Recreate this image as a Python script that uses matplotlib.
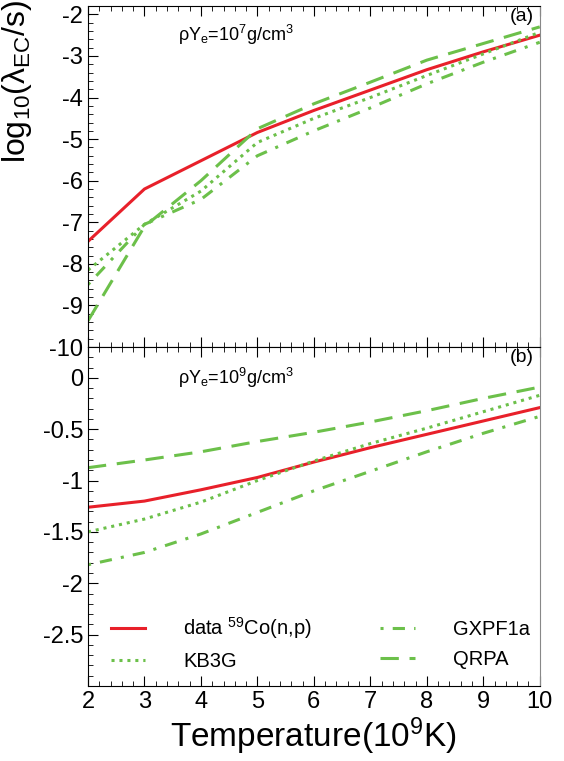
import matplotlib
matplotlib.use("Agg")
import matplotlib.pyplot as plt
from matplotlib.ticker import MultipleLocator

plt.rcParams['font.family'] = ['Liberation Sans', 'DejaVu Sans']
plt.rcParams['mathtext.fontset'] = 'custom'
plt.rcParams['mathtext.rm'] = 'Liberation Sans'
plt.rcParams['mathtext.it'] = 'Liberation Sans'
plt.rcParams['axes.unicode_minus'] = False

# temperature grid (10^9 K)
T = [2, 3, 4, 5, 6, 7, 8, 9, 10]

# panel (a): rho*Ye = 1e7 g/cm^3
data_a = [-7.46, -6.2, -5.52, -4.84, -4.31, -3.82, -3.33, -2.9, -2.5]
kb3g_a = [-8.15, -7.05, -6.25, -5.08, -4.5, -4.0, -3.47, -2.95, -2.43]
gxpf_a = [-8.5, -7.05, -6.45, -5.4, -4.8, -4.25, -3.67, -3.15, -2.67]
qrpa_a = [-9.37, -7.1, -6.0, -4.75, -4.15, -3.63, -3.1, -2.7, -2.3]

# panel (b): rho*Ye = 1e9 g/cm^3
data_b = [-1.26, -1.2, -1.09, -0.97, -0.82, -0.68, -0.55, -0.42, -0.29]
kb3g_b = [-1.5, -1.375, -1.21, -1.0, -0.81, -0.64, -0.49, -0.33, -0.17]
gxpf_b = [-1.82, -1.7, -1.52, -1.31, -1.1, -0.91, -0.72, -0.54, -0.375]
qrpa_b = [-0.875, -0.8, -0.72, -0.62, -0.53, -0.43, -0.32, -0.2, -0.09]

red = '#e8202a'
green = '#6cc04a'

fig = plt.figure(figsize=(5.64, 7.61), dpi=100)
ax1 = fig.add_axes([0.156, 0.544, 0.801, 0.448])
ax2 = fig.add_axes([0.156, 0.0986, 0.801, 0.4454])


def draw(ax, d, k, g, q):
    ax.plot(T, d, color=red, lw=2.2, label=r'data $^{59}$Co(n,p)')
    ax.plot(T, k, color=green, lw=2.2, ls=(0, (1, 1.6)), label='KB3G')
    ax.plot(T, g, color=green, lw=2.2, ls=(0, (1, 3, 4, 3)), label='GXPF1a')
    ax.plot(T, q, color=green, lw=2.2, ls=(0, (6, 3.5)), label='QRPA')
    ax.set_xlim(2, 10)
    ax.xaxis.set_major_locator(MultipleLocator(1))
    ax.xaxis.set_minor_locator(MultipleLocator(0.2))
    ax.tick_params(which='both', direction='in', right=False, top=True,
                   labelsize=17)
    ax.tick_params(which='major', length=7)
    ax.tick_params(which='minor', length=3.5)
    ax.spines['right'].set_color('#888888')


draw(ax1, data_a, kb3g_a, gxpf_a, qrpa_a)
ax1.set_ylim(-10, -1.8)
ax1.yaxis.set_major_locator(MultipleLocator(1))
ax1.yaxis.set_minor_locator(MultipleLocator(0.2))
ax1.tick_params(axis='x', labelbottom=False)
ax1.set_yticks([-2, -3, -4, -5, -6, -7, -8, -9, -10])
ax1.text(0.2, 0.915, r'$\rho$Y$_{\rm e}$=10$^{7}$g/cm$^{3}$', transform=ax1.transAxes,
         fontsize=13, va='center')
ax1.text(0.987, 0.995, '(a)', transform=ax1.transAxes, fontsize=14,
         ha='right', va='top')
ax1.set_ylabel(r'log$_{10}$($\lambda_{\rm EC}$/s)', fontsize=23, labelpad=4)
ax1.yaxis.set_label_coords(-0.12, 0.78)

draw(ax2, data_b, kb3g_b, gxpf_b, qrpa_b)
ax2.set_ylim(-3, 0.3)
ax2.set_yticks([0, -0.5, -1, -1.5, -2, -2.5])
ax2.set_yticklabels(['0', '-0.5', '-1', '-1.5', '-2', '-2.5'])
ax2.yaxis.set_minor_locator(MultipleLocator(0.1))
ax2.text(0.2, 0.91, r'$\rho$Y$_{\rm e}$=10$^{9}$g/cm$^{3}$', transform=ax2.transAxes,
         fontsize=13, va='center')
ax2.text(0.987, 0.995, '(b)', transform=ax2.transAxes, fontsize=14,
         ha='right', va='top')
ax2.set_xlabel(r'Temperature(10$^{9}$K)', fontsize=24, labelpad=2)
ax2.legend(loc='lower left', bbox_to_anchor=(0.01, -0.01), ncol=2, frameon=False,
           fontsize=14.5, handlelength=1.7, handletextpad=1.9, columnspacing=3.4,
           labelspacing=0.55)

fig.savefig('out.png', dpi=100)
